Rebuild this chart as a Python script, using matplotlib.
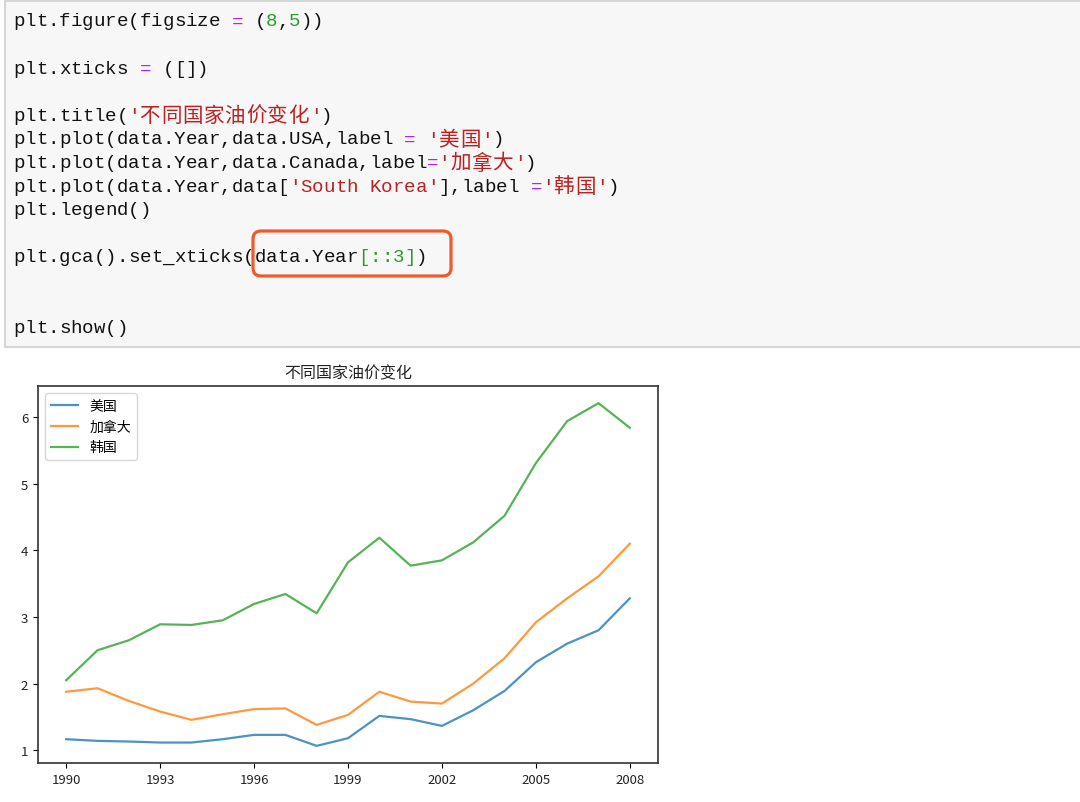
import matplotlib.pyplot as plt
from matplotlib.patches import Rectangle, FancyBboxPatch

years = [1990, 1991, 1992, 1993, 1994, 1995, 1996, 1997, 1998, 1999,
         2000, 2001, 2002, 2003, 2004, 2005, 2006, 2007, 2008]
usa = [1.165, 1.14, 1.13, 1.115, 1.115, 1.165, 1.23, 1.23, 1.065, 1.18,
       1.515, 1.466, 1.365, 1.60, 1.89, 2.32, 2.60, 2.80, 3.28]
canada = [1.877, 1.93, 1.74, 1.58, 1.456, 1.54, 1.617, 1.627, 1.38, 1.53,
          1.877, 1.73, 1.70, 2.00, 2.38, 2.92, 3.28, 3.61, 4.10]
korea = [2.05, 2.50, 2.65, 2.89, 2.88, 2.95, 3.195, 3.345, 3.055, 3.82,
         4.19, 3.77, 3.85, 4.12, 4.52, 5.31, 5.94, 6.21, 5.84]
labels = ['美国', '加拿大', '韩国']
title = '不同国家油价变化'

# code cell text: (line number, [(token, colour), ...])
BLK, PUR, GRN, RED = '#111111', '#aa22ff', '#2e9a2e', '#ba2121'
code_lines = [
    (0, [('plt.figure(figsize ', BLK), ('=', PUR), (' (', BLK), ('8', GRN), (',', BLK), ('5', GRN), ('))', BLK)]),
    (2, [('plt.xticks ', BLK), ('=', PUR), (' ([])', BLK)]),
    (4, [('plt.title(', BLK), ("'不同国家油价变化'", RED), (')', BLK)]),
    (5, [('plt.plot(data.Year,data.USA,label ', BLK), ('=', PUR), (' ', BLK), ("'美国'", RED), (')', BLK)]),
    (6, [('plt.plot(data.Year,data.Canada,label', BLK), ('=', PUR), ("'加拿大'", RED), (')', BLK)]),
    (7, [('plt.plot(data.Year,data[', BLK), ("'South Korea'", RED), ('],label ', BLK), ('=', PUR), ("'韩国'", RED), (')', BLK)]),
    (8, [('plt.legend()', BLK)]),
    (10, [('plt.gca().set_xticks(data.Year', BLK), ('[::3]', GRN), (')', BLK)]),
    (13, [('plt.show()', BLK)]),
]

W, H = 1080, 803
fig = plt.figure(figsize=(W / 100, H / 100), dpi=100)

# background layer in pixel coordinates
bg = fig.add_axes([0, 0, 1, 1])
bg.set_xlim(0, W)
bg.set_ylim(H, 0)
bg.axis('off')

bg.add_patch(Rectangle((5, 2), W, 346, facecolor='#f7f7f7', edgecolor='#cfcfcf', linewidth=1.2))

fs = 13.8
em = fs * 100 / 72
for ln, tokens in code_lines:
    y = 22 + 23.6 * ln
    x = 13
    for tok, col in tokens:
        for ch in tok:
            wide = ord(ch) > 0x2e80
            bg.text(x, y, ch, color=col, fontsize=fs + (1 if wide else 0), va='center', ha='left',
                    family=['Liberation Mono', 'Noto Sans CJK SC'])
            x += 1.11 * em if wide else 0.6 * em

bg.add_patch(FancyBboxPatch((253, 232), 198, 45, boxstyle='round,pad=0,rounding_size=8',
                            facecolor='none', edgecolor='#ee5a2c', linewidth=2.3))

# chart
ax = fig.add_axes([38 / W, 1 - 764 / H, 620 / W, 377 / H])
cjk = ['Noto Sans CJK SC', 'DejaVu Sans']
ax.plot(years, usa, label=labels[0], color='#1f77b4', alpha=0.8, lw=1.6)
ax.plot(years, canada, label=labels[1], color='#ff7f0e', alpha=0.8, lw=1.6)
ax.plot(years, korea, label=labels[2], color='#2ca02c', alpha=0.8, lw=1.6)
ax.set_xticks(years[::3])
ax.tick_params(labelsize=9.5, labelcolor='#222222')
for t in ax.get_xticklabels() + ax.get_yticklabels():
    t.set_family(cjk)
ax.set_title(title, fontsize=11.5, family=cjk, color='#222222')
leg = ax.legend(loc='upper left', prop={'family': cjk, 'size': 10})
for sp in ax.spines.values():
    sp.set_color('#333333')
    sp.set_linewidth(1.2)

fig.savefig('out.png', dpi=100)
